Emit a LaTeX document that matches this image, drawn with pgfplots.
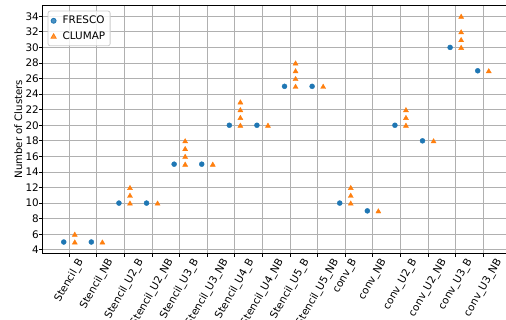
\documentclass[border=0pt]{standalone}
\usepackage{fontspec}
\setmainfont{DejaVu Sans}
\usepackage{graphicx}
\usepackage{pgfplots}
\pgfplotsset{compat=1.18}
\definecolor{tabblue}{HTML}{1F77B4}
\definecolor{taborange}{HTML}{FF7F0E}
\definecolor{gridgray}{HTML}{B0B0B0}
\definecolor{legframe}{HTML}{CCCCCC}
\newcommand{\R}[1]{\rotatebox{60}{#1}}

\pgfplotstableread{
x y
-0.2 5
0.8 5
1.8 10
2.8 10
3.8 15
4.8 15
5.8 20
6.8 20
7.8 25
8.8 25
9.8 10
10.8 9
11.8 20
12.8 18
13.8 30
14.8 27
}\fresco

\pgfplotstableread{
x y
0.2 5
0.2 6
1.2 5
2.2 10
2.2 11
2.2 12
3.2 10
4.2 15
4.2 16
4.2 17
4.2 18
5.2 15
6.2 20
6.2 21
6.2 22
6.2 23
7.2 20
8.2 25
8.2 26
8.2 27
8.2 28
9.2 25
10.2 10
10.2 11
10.2 12
11.2 9
12.2 20
12.2 21
12.2 22
13.2 18
14.2 30
14.2 31
14.2 32
14.2 34
15.2 27
}\clumap

\begin{document}
\begin{tikzpicture}
\begin{axis}[
  scale only axis, width=467.5pt, height=248.3pt,
  xmin=-0.97, xmax=15.97, ymin=3.55, ymax=35.45,
  xtick={0,...,15},
  xticklabels={\R{Stencil\_B},\R{Stencil\_NB},\R{Stencil\_U2\_B},\R{Stencil\_U2\_NB},\R{Stencil\_U3\_B},\R{Stencil\_U3\_NB},\R{Stencil\_U4\_B},\R{Stencil\_U4\_NB},\R{Stencil\_U5\_B},\R{Stencil\_U5\_NB},\R{conv\_B},\R{conv\_NB},\R{conv\_U2\_B},\R{conv\_U2\_NB},\R{conv\_U3\_B},\R{conv\_U3\_NB}},
  ytick={4,6,...,34},
  tick align=outside, tick pos=left,
  major tick length=3.5pt,
  grid=major, grid style={gridgray, line width=0.8pt},
  axis on top,
  axis line style={line width=0.8pt, black},
  every tick/.style={black, line width=0.8pt},
  tick label style={font=\fontsize{10.4}{12}\selectfont},
  xticklabel style={anchor=north, inner sep=0pt, yshift=-0.5pt},
  yticklabel style={anchor=east, inner sep=0pt},
  /pgf/number format/assume math mode=true,
  ylabel={Number of Clusters},
  every axis y label/.style={at={(rel axis cs:0,0.5)}, xshift=-24.3pt, rotate=90, anchor=center, font=\fontsize{10.2}{12}\selectfont},
  legend cell align=left,
  legend image code/.code={\draw[mark repeat=2,mark phase=2,#1] plot coordinates {(0pt,0pt)(10pt,0pt)(20pt,0pt)};},
  legend style={at={(0,1)}, anchor=north west, xshift=5.2pt, yshift=-5.7pt,
    draw=legframe, line width=0.8pt, rounded corners=2pt, fill=white, fill opacity=0.8, text opacity=1,
    font=\fontsize{10.4}{12}\selectfont, inner xsep=3pt, inner ysep=3.1pt, row sep=2pt,
    nodes={inner sep=2pt, text depth=0.15em},
    /tikz/every odd column/.append style={column sep=4.5pt}},
]
\coordinate (O) at (rel axis cs:0,0);
\addplot[only marks, mark=*, mark size=2.5pt, color=tabblue, mark options={draw=tabblue, fill=tabblue}] table[x=x,y=y] {\fresco};
\addlegendentry{FRESCO}
\addplot[only marks, mark=triangle*, mark size=2.9pt, color=taborange, mark options={draw=taborange, fill=taborange, yshift=-0.7pt}] table[x=x,y=y] {\clumap};
\addlegendentry{CLUMAP}
\end{axis}
\pgfresetboundingbox
\path ([shift={(-42.5pt,-66.7pt)}]O) rectangle ([shift={(463.5pt,253.3pt)}]O);
\end{tikzpicture}
\end{document}
